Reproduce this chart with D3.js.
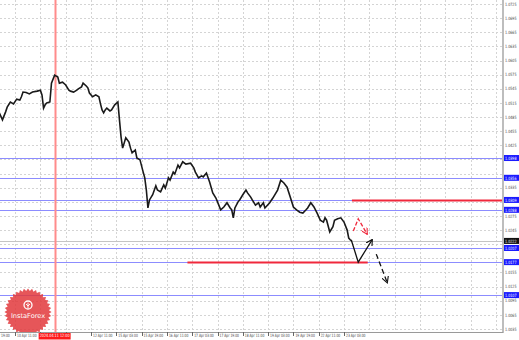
<!DOCTYPE html>
<html>
<head>
<meta charset="utf-8">
<script src="https://cdn.jsdelivr.net/npm/d3@7"></script>
<style>
  body { margin: 0; background: #fff; }
  svg { display: block; font-family: "DejaVu Sans", sans-serif; }
</style>
</head>
<body>
<div id="chart"></div>
<script>
// Price axis labels
let priceTicks = [1.0725, 1.0695, 1.0665, 1.0635, 1.0605, 1.0575, 1.0545, 1.0515, 1.0485,
  1.0455, 1.0425, 1.0395, 1.0365, 1.0335, 1.0305, 1.0275, 1.0245, 1.0215, 1.0185,
  1.0155, 1.0125, 1.0095, 1.0065, 1.0035];

// Time axis labels (one every 16 hourly bars)
let timeLabels = ["9 Apr 19:00", "10 Apr 11:00", "11 Apr 03:00", "11 Apr 19:00", "12 Apr 11:00",
  "15 Apr 03:00", "15 Apr 19:00", "16 Apr 11:00", "17 Apr 03:00", "17 Apr 19:00",
  "18 Apr 11:00", "19 Apr 03:00", "19 Apr 19:00", "22 Apr 11:00", "23 Apr 03:00"];

// Price path (bar index in hours, price)
let barHour = [6, 8, 10, 11, 13, 15, 17, 19, 20, 21, 23, 25, 27, 30, 32, 33, 34, 35, 36, 38,
  39, 41, 43, 44, 46, 48, 50, 51, 53, 55, 56, 58, 59, 61, 62, 63, 65, 67, 69, 70,
  71, 72, 73, 74, 76, 77, 79, 81, 82, 83, 84, 86, 88, 89, 90, 92, 93, 95, 97, 98,
  99, 100, 101, 103, 105, 106, 108, 110, 111, 113, 114, 116, 117, 119, 120, 122, 124, 127, 129, 130,
  132, 134, 135, 137, 139, 141, 143, 144, 146, 148, 150, 152, 153, 154, 155, 157, 158, 160, 162, 163,
  165, 166, 168, 170, 171, 173, 174, 177, 179, 182, 184, 186, 188, 190, 192, 194, 196, 198, 200, 201,
  203, 205, 207, 209, 211, 212, 213, 215, 217, 218, 220, 222, 224, 226, 227, 228, 229];
let barPrice = [1.0494, 1.0479, 1.0496, 1.0506, 1.0517, 1.0513, 1.0523, 1.0521, 1.0528, 1.0538,
  1.0537, 1.0534, 1.0538, 1.0540, 1.0542, 1.0532, 1.0504, 1.0511, 1.0515, 1.0517,
  1.0557, 1.0574, 1.0570, 1.0557, 1.0559, 1.0553, 1.0542, 1.0540, 1.0538, 1.0542,
  1.0545, 1.0549, 1.0557, 1.0551, 1.0547, 1.0536, 1.0528, 1.0532, 1.0528, 1.0513,
  1.0500, 1.0494, 1.0500, 1.0504, 1.0498, 1.0500, 1.0511, 1.0517, 1.0479, 1.0443,
  1.0419, 1.0441, 1.0432, 1.0419, 1.0409, 1.0415, 1.0398, 1.0394, 1.0368, 1.0356,
  1.0330, 1.0292, 1.0309, 1.0320, 1.0339, 1.0330, 1.0326, 1.0341, 1.0334, 1.0356,
  1.0351, 1.0368, 1.0364, 1.0383, 1.0377, 1.0390, 1.0385, 1.0387, 1.0377, 1.0368,
  1.0356, 1.0360, 1.0358, 1.0366, 1.0347, 1.0324, 1.0313, 1.0305, 1.0288, 1.0294,
  1.0303, 1.0292, 1.0288, 1.0271, 1.0292, 1.0305, 1.0309, 1.0320, 1.0330, 1.0324,
  1.0315, 1.0309, 1.0298, 1.0303, 1.0294, 1.0303, 1.0292, 1.0303, 1.0313, 1.0330,
  1.0351, 1.0345, 1.0336, 1.0315, 1.0294, 1.0288, 1.0283, 1.0281, 1.0288, 1.0292,
  1.0303, 1.0294, 1.0281, 1.0266, 1.0262, 1.0271, 1.0266, 1.0241, 1.0252, 1.0266,
  1.0269, 1.0271, 1.0262, 1.0245, 1.0228, 1.0224, 1.0222];

let lastPrice = 1.0222;

// Horizontal levels (blue)
let levels = [1.0398, 1.0356, 1.0309, 1.0288, 1.0207, 1.0177, 1.0107];

// Red segments: [startHour, endHour, price]
let redLines = [[229, 324, 1.0309], [125, 239, 1.0177]];
let markerHour = 41;  // vertical red line
let markerLabel = "2024.04.11 12:00";

// Arrow drawings (hour, price)
let redArrow = [[229.9, 1.0243], [233, 1.0269], [238.7, 1.0236]];
let blackArrow = [[228.6, 1.0224], [233, 1.0177], [241.9, 1.0225]];
let dashArrow = [[244.4, 1.0194], [251.4, 1.0133]];

let W = 519, H = 340;
let plotR = 503, plotB = 332;

let svg = d3.select("#chart").append("svg")
  .attr("width", W)
  .attr("height", H);

let x = d3.scaleLinear().domain([0, 16]).range([-10.2, 15.1]);
let y = d3.scaleLinear().domain([1.0035, 1.0725]).range([329, 4]);

svg.append("clipPath").attr("id", "clip")
  .append("rect").attr("x", 0).attr("y", 0).attr("width", plotR).attr("height", plotB);

let plot = svg.append("g").attr("clip-path", "url(#clip)");

// grid
plot.selectAll("line.hgrid")
  .data(priceTicks)
  .enter().append("line")
  .attr("x1", 0).attr("x2", plotR)
  .attr("y1", d => Math.round(y(d)) + 0.5).attr("y2", d => Math.round(y(d)) + 0.5)
  .attr("stroke", "#d4d4d4").attr("stroke-dasharray", "2,2");

let gridHours = d3.range(0, 340, 16);
plot.selectAll("line.vgrid")
  .data(gridHours)
  .enter().append("line")
  .attr("x1", d => Math.round(x(d)) + 0.5).attr("x2", d => Math.round(x(d)) + 0.5)
  .attr("y1", 0).attr("y2", plotB)
  .attr("stroke", "#d4d4d4").attr("stroke-dasharray", "2,2");

// current price line
plot.append("line")
  .attr("x1", 0).attr("x2", plotR)
  .attr("y1", Math.round(y(lastPrice)) + 0.5).attr("y2", Math.round(y(lastPrice)) + 0.5)
  .attr("stroke", "#c4c4c4");

// blue levels
plot.selectAll("line.level")
  .data(levels)
  .enter().append("line")
  .attr("x1", 0).attr("x2", plotR)
  .attr("y1", d => Math.round(y(d)) + 0.5).attr("y2", d => Math.round(y(d)) + 0.5)
  .attr("stroke", "#8c8cff").attr("stroke-width", 1.2);

// vertical red marker
plot.append("rect")
  .attr("x", Math.round(x(markerHour)) - 0.5).attr("width", 2)
  .attr("y", 0).attr("height", plotB)
  .attr("fill", "#ff8c8c");

// logo
let logo = plot.append("g").attr("transform", "translate(28,312)");
let teeth = 36;
let pts = d3.range(teeth * 2).map(function (i) {
  let r = i % 2 ? 21 : 23.5;
  let a = i / (teeth * 2) * Math.PI * 2;
  return [r * Math.cos(a), r * Math.sin(a)];
});
logo.append("polygon")
  .attr("points", pts.map(p => p.join(",")).join(" "))
  .attr("fill", "#e2383c").attr("opacity", 0.85);
logo.append("circle").attr("cx", 0).attr("cy", -7).attr("r", 4)
  .attr("fill", "none").attr("stroke", "#fff").attr("stroke-width", 1.3);
logo.append("path").attr("d", "M0,-9.5 L0,-4 M-2,-8 L0,-6 L2,-8")
  .attr("stroke", "#fff").attr("stroke-width", 0.9).attr("fill", "none");
logo.append("text").attr("x", 0).attr("y", 5.5)
  .attr("text-anchor", "middle").attr("fill", "#fff")
  .attr("font-size", "6.6px").text("InstaForex");

// price line
let line = d3.line()
  .x(function (d, i) {return x(barHour[i])})
  .y(function (d) {return y(d)});
plot.append("path")
  .datum(barPrice)
  .attr("d", line)
  .attr("fill", "none")
  .attr("stroke", "#1a1a1a")
  .attr("stroke-width", 1.6)
  .attr("stroke-linejoin", "miter");

// red segments
plot.selectAll("line.red")
  .data(redLines)
  .enter().append("line")
  .attr("x1", d => x(d[0])).attr("x2", d => x(d[1]))
  .attr("y1", d => Math.round(y(d[2])) + 0.5).attr("y2", d => Math.round(y(d[2])) + 0.5)
  .attr("stroke", "#f0283c").attr("stroke-width", 2);

// arrows
let defs = svg.append("defs");
let addHead = function (id, color) {
  defs.append("marker").attr("id", id)
    .attr("viewBox", "0 0 10 10").attr("refX", 9).attr("refY", 5)
    .attr("markerWidth", 7).attr("markerHeight", 7).attr("orient", "auto")
    .attr("markerUnits", "userSpaceOnUse")
    .append("path").attr("d", "M0,0 L9,5 L0,10")
    .attr("fill", "none").attr("stroke", color).attr("stroke-width", 1.6);
}
addHead("headRed", "#f0283c");
addHead("headBlack", "#111");

let arrowLine = d3.line().x(d => x(d[0])).y(d => y(d[1]));
plot.append("path").attr("d", arrowLine(redArrow))
  .attr("fill", "none").attr("stroke", "#f0283c").attr("stroke-width", 1.3)
  .attr("stroke-dasharray", "4,2").attr("marker-end", "url(#headRed)");
plot.append("path").attr("d", arrowLine(blackArrow))
  .attr("fill", "none").attr("stroke", "#111").attr("stroke-width", 1.3)
  .attr("marker-end", "url(#headBlack)");
plot.append("path").attr("d", arrowLine(dashArrow))
  .attr("fill", "none").attr("stroke", "#111").attr("stroke-width", 1.3)
  .attr("stroke-dasharray", "5,3").attr("marker-end", "url(#headBlack)");

// frame
svg.append("line").attr("x1", plotR).attr("x2", plotR).attr("y1", 0).attr("y2", plotB + 1)
  .attr("stroke", "#bdbdbd").attr("stroke-width", 2);
svg.append("line").attr("x1", 0).attr("x2", plotR).attr("y1", plotB + 0.5).attr("y2", plotB + 0.5)
  .attr("stroke", "#9a9a9a");

// price labels (those hidden under a box label are skipped)
let boxed = levels.concat([lastPrice]);
let freeTicks = priceTicks.filter(t => boxed.every(b => Math.abs(y(t) - y(b)) > 5));
svg.selectAll("text.py")
  .data(freeTicks)
  .enter().append("text")
  .attr("x", 505).attr("y", d => y(d) + 1.7)
  .attr("font-size", "4.4px").attr("fill", "#444")
  .attr("textLength", 11.5).attr("lengthAdjust", "spacingAndGlyphs")
  .text(d => d.toFixed(4));

let boxLabel = function (v, bg) {
  let yy = y(v);
  svg.append("rect").attr("x", 504).attr("y", yy - 3).attr("width", 15).attr("height", 6)
    .attr("fill", bg);
  svg.append("text").attr("x", 505).attr("y", yy + 1.7)
    .attr("font-size", "4.4px").attr("fill", "#fff")
    .attr("textLength", 11.5).attr("lengthAdjust", "spacingAndGlyphs")
    .text(v.toFixed(4));
}
levels.forEach(d => boxLabel(d, "#1a1aff"));
boxLabel(lastPrice, "#111");

// time labels (the one under the marker box is hidden)
let mx = x(markerHour);
let shownTimes = timeLabels.map((d, i) => [d, i]).filter(d => Math.abs(x(d[1] * 16) - mx) > 16);
svg.selectAll("line.tt")
  .data(timeLabels)
  .enter().append("line")
  .attr("x1", (d, i) => Math.round(x(i * 16)) + 0.5).attr("x2", (d, i) => Math.round(x(i * 16)) + 0.5)
  .attr("y1", plotB).attr("y2", plotB + 4)
  .attr("stroke", "#666");
svg.selectAll("text.tx")
  .data(shownTimes)
  .enter().append("text")
  .attr("x", d => x(d[1] * 16) + 2).attr("y", 337.3)
  .attr("font-size", "4.4px").attr("fill", "#444")
  .attr("textLength", d => d[0].length > 11 ? 19.5 : 18).attr("lengthAdjust", "spacingAndGlyphs")
  .text(d => d[0]);

svg.append("rect").attr("x", mx - 16).attr("y", plotB + 1).attr("width", 32).attr("height", 6.5)
  .attr("fill", "#ff1a1a");
svg.append("text").attr("x", mx - 15).attr("y", 337.3)
  .attr("font-size", "4.4px").attr("fill", "#fff")
  .attr("textLength", 30).attr("lengthAdjust", "spacingAndGlyphs")
  .text(markerLabel);
</script>
</body>
</html>
